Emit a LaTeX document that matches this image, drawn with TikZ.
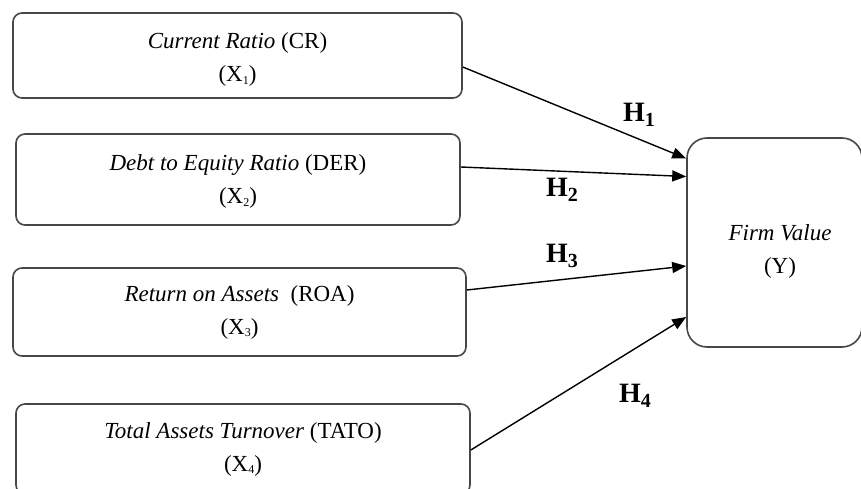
\documentclass[tikz,border=0pt]{standalone}
\usepackage{fontspec}
\setmainfont{Liberation Serif}
\usetikzlibrary{arrows.meta}
\newcommand{\xsub}[1]{\raisebox{-2.5pt}{\fontsize{12}{12}\selectfont #1}}
\newcommand{\hlab}[1]{\textbf{H\raisebox{-5pt}{\fontsize{20}{20}\selectfont #1}}}
\newcommand{\lift}[1]{\rule{0pt}{#1}}
\begin{document}
\begin{tikzpicture}[x=1pt,y=-1pt,
  box/.style={draw=black!72, line width=1.6pt, rounded corners=9pt, inner sep=0pt, align=center, font=\fontsize{23}{33}\selectfont},
  arr/.style={-{Triangle[length=14pt,width=11pt]}, line width=1.4pt, black},
  hl/.style={font=\fontsize{28}{28}\selectfont, inner sep=0pt}]
\useasboundingbox (0,0) rectangle (861,489);
\fill[white] (0,0) rectangle (861,489);
\node[box, minimum width=449pt, minimum height=85pt] (b1) at (237.5,55.5) {\lift{24pt}\textit{Current Ratio} (CR)\\(X\xsub{1})};
\node[box, minimum width=444pt, minimum height=91pt] (b2) at (238,179.5) {\lift{20pt}\textit{Debt to Equity Ratio} (DER)\\(X\xsub{2})};
\node[box, minimum width=453pt, minimum height=88pt] (b3) at (239.5,312) {\textit{Return on Assets}\ \ (ROA)\\(X\xsub{3})};
\node[box, minimum width=454pt, minimum height=90pt] (b4) at (243,449) {\textit{Total Assets Turnover} (TATO)\\(X\xsub{4})};
\node[box, rounded corners=20pt, minimum width=175pt, minimum height=209pt] (fv) at (774.5,242.5) {\hspace*{11pt}\lift{34pt}\textit{Firm Value}\\\hspace*{11pt}(Y)};
\draw[arr] ([yshift=-11.5pt]b1.east) -- ([yshift=84pt]fv.west);
\draw[arr] ([yshift=12.5pt]b2.east) -- ([yshift=66pt]fv.west);
\draw[arr] ([yshift=22pt]b3.east) -- ([yshift=-23.5pt]fv.west);
\draw[arr] ([yshift=-1pt]b4.east) -- ([yshift=-74.5pt]fv.west);
\node[hl] (h1) at (639,115) {\hlab{1}};
\node[hl] (h2) at (562,190) {\hlab{2}};
\node[hl] (h3) at (562,256) {\hlab{3}};
\node[hl] (h4) at (635,396) {\hlab{4}};
\end{tikzpicture}
\end{document}
